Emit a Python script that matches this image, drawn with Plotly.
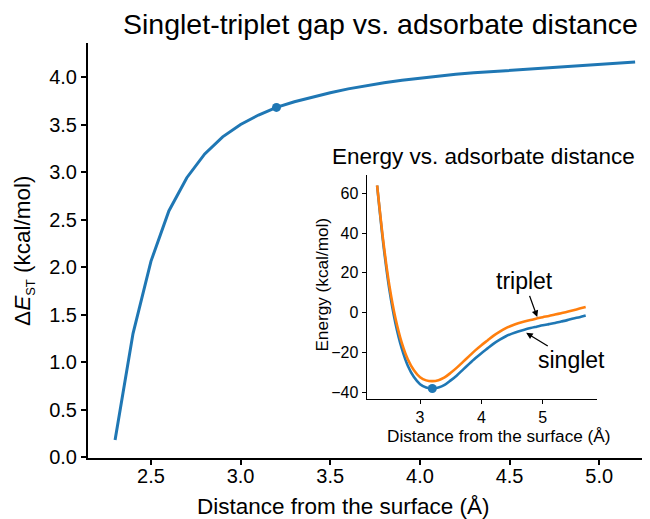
import plotly.graph_objects as go

# Main chart: singlet-triplet gap
dist_main = [2.3, 2.4, 2.5, 2.6, 2.7, 2.8, 2.9, 3.0, 3.1, 3.2, 3.3, 3.4, 3.5, 3.6, 3.7,
             3.8, 3.9, 4.0, 4.1, 4.2, 4.3, 4.4, 4.5, 4.6, 4.7, 4.8, 4.9, 5.0, 5.1, 5.2]
gap_st = [0.18, 1.30, 2.06, 2.59, 2.94, 3.19, 3.37, 3.50, 3.60, 3.68, 3.74, 3.79, 3.835, 3.875,
          3.91, 3.94, 3.966, 3.988, 4.008, 4.028, 4.044, 4.057, 4.07, 4.083, 4.097, 4.11,
          4.122, 4.134, 4.146, 4.158]
min_dist = 3.2
min_gap = 3.68

# Inset: energies
dist_inset = [2.3, 2.4, 2.5, 2.6, 2.7, 2.8, 2.9, 3.0, 3.1, 3.2, 3.3, 3.4, 3.5, 3.6, 3.7, 3.8,
              3.9, 4.0, 4.1, 4.2, 4.3, 4.4, 4.5, 4.6, 4.7, 4.8, 4.9, 5.0, 5.1, 5.2, 5.3, 5.4,
              5.5, 5.6, 5.7]
triplet = [64.0, 36.0, 13.5, -3.0, -15.0, -23.5, -29.0, -32.5, -34.1, -34.5, -34.0, -32.6,
           -30.3, -27.7, -24.8, -21.9, -19.0, -16.4, -14.0, -11.6, -9.6, -7.8, -6.5, -5.4,
           -4.5, -3.7, -3.0, -2.3, -1.7, -1.0, -0.3, 0.4, 1.2, 2.0, 2.8]
singlet = [63.8, 34.7, 11.4, -5.6, -17.9, -26.7, -32.4, -36.0, -37.7, -38.2, -37.7, -36.4,
           -34.1, -31.6, -28.7, -25.8, -23.0, -20.4, -18.0, -15.6, -13.6, -11.9, -10.6, -9.5,
           -8.6, -7.8, -7.1, -6.4, -5.8, -5.2, -4.5, -3.8, -3.0, -2.3, -1.5]
min_energy = -38.2

main_xticks = [2.5, 3.0, 3.5, 4.0, 4.5, 5.0]
main_xticklabels = ["2.5", "3.0", "3.5", "4.0", "4.5", "5.0"]
main_yticks = [0.0, 0.5, 1.0, 1.5, 2.0, 2.5, 3.0, 3.5, 4.0]
main_yticklabels = ["0.0", "0.5", "1.0", "1.5", "2.0", "2.5", "3.0", "3.5", "4.0"]
inset_xticks = [3, 4, 5]
inset_xticklabels = ["3", "4", "5"]
inset_yticks = [-40, -20, 0, 20, 40, 60]
inset_yticklabels = ["\u221240", "\u221220", "0", "20", "40", "60"]

BLUE = "#1f77b4"
ORANGE = "#ff7f0e"
FONT = "Liberation Sans, Arial, Helvetica, sans-serif"

fig = go.Figure()
fig.add_trace(go.Scatter(x=dist_main, y=gap_st, mode="lines",
                         line=dict(color=BLUE, width=3), xaxis="x", yaxis="y",
                         showlegend=False))
fig.add_trace(go.Scatter(x=[min_dist], y=[min_gap], mode="markers",
                         marker=dict(color=BLUE, size=9), xaxis="x", yaxis="y",
                         showlegend=False))
fig.add_trace(go.Scatter(x=dist_inset, y=singlet, mode="lines",
                         line=dict(color=BLUE, width=2.6, shape="spline", smoothing=0.8),
                         xaxis="x2", yaxis="y2", showlegend=False))
fig.add_trace(go.Scatter(x=dist_inset, y=triplet, mode="lines",
                         line=dict(color=ORANGE, width=2.6, shape="spline", smoothing=0.8),
                         xaxis="x2", yaxis="y2", showlegend=False))
fig.add_trace(go.Scatter(x=[min_dist], y=[min_energy], mode="markers",
                         marker=dict(color=BLUE, size=9), xaxis="x2", yaxis="y2",
                         showlegend=False))

ax_common = dict(showgrid=False, zeroline=False, showline=True, linecolor="black",
                 ticks="outside", tickcolor="black")

# The page body adds an 8px offset; the figure is sized to compensate.
fig.update_layout(
    width=642, height=511,
    margin=dict(l=80, r=0, t=35, b=61),
    paper_bgcolor="white", plot_bgcolor="rgba(0,0,0,0)",
    font=dict(family=FONT, color="black"),
    xaxis=dict(domain=[0, 1], range=[2.149, 5.283], tickvals=main_xticks,
               ticktext=main_xticklabels, linewidth=2, tickwidth=2, ticklen=5,
               ticklabelstandoff=-6,
               tickfont=dict(size=20), anchor="y", **ax_common),
    yaxis=dict(domain=[0, 1], range=[-0.01, 4.358], tickvals=main_yticks,
               ticktext=main_yticklabels, linewidth=2, tickwidth=2, ticklen=5,
               tickfont=dict(size=20), anchor="x", **ax_common),
    xaxis2=dict(domain=[0.4959, 0.9052], range=[2.13, 5.88], tickvals=inset_xticks,
                ticktext=inset_xticklabels, linewidth=1.3, tickwidth=1.3, ticklen=4,
                ticklabelstandoff=0,
                tickfont=dict(size=16), anchor="y2", **ax_common),
    yaxis2=dict(domain=[0.142, 0.682], range=[-43.5, 69.2], tickvals=inset_yticks,
                ticktext=inset_yticklabels, linewidth=1.3, tickwidth=1.3, ticklen=4,
                tickfont=dict(size=16), anchor="x2", **ax_common),
)

annotations = [
    dict(text="Singlet-triplet gap vs. adsorbate distance", xref="paper", yref="paper",
         x=0.5205, y=(458.3 - 24) / 415.3, xanchor="center", yanchor="middle",
         showarrow=False, font=dict(size=28.5)),
    dict(text="Distance from the surface (\u00c5)", xref="paper", yref="paper",
         x=0.4555, y=-0.117, xanchor="center", yanchor="middle",
         showarrow=False, font=dict(size=22.5)),
    dict(text="\u0394<i>E</i><sub><span style='font-size:13px'>ST</span></sub> (kcal/mol)",
         xref="paper", yref="paper",
         x=-0.1139, y=0.499, xanchor="center", yanchor="middle", textangle=-90,
         showarrow=False, font=dict(size=22.5)),
    dict(text="Energy vs. adsorbate distance", xref="paper", yref="paper",
         x=0.7037, y=0.7255, xanchor="center", yanchor="middle",
         showarrow=False, font=dict(size=22.5)),
    dict(text="Distance from the surface (\u00c5)", xref="paper", yref="paper",
         x=0.732, y=0.054, xanchor="center", yanchor="middle",
         showarrow=False, font=dict(size=17.2)),
    dict(text="Energy (kcal/mol)", xref="paper", yref="paper",
         x=0.4158, y=0.417, xanchor="center", yanchor="middle", textangle=-90,
         showarrow=False, font=dict(size=17.2)),
    dict(text="triplet", xref="x2", yref="y2", x=4.91, y=-2.2,
         axref="x2", ayref="y2", ax=4.70, ay=15.7, showarrow=True,
         arrowhead=2, arrowsize=1, arrowwidth=1.3, arrowcolor="black", standoff=0,
         font=dict(size=23)),
    dict(text="singlet", xref="x2", yref="y2", x=4.73, y=-10.2,
         axref="x2", ayref="y2", ax=5.47, ay=-24.1, showarrow=True,
         arrowhead=2, arrowsize=1, arrowwidth=1.3, arrowcolor="black", standoff=0,
         font=dict(size=23)),
]
fig.update_layout(annotations=annotations)

fig.write_html("out.html")
